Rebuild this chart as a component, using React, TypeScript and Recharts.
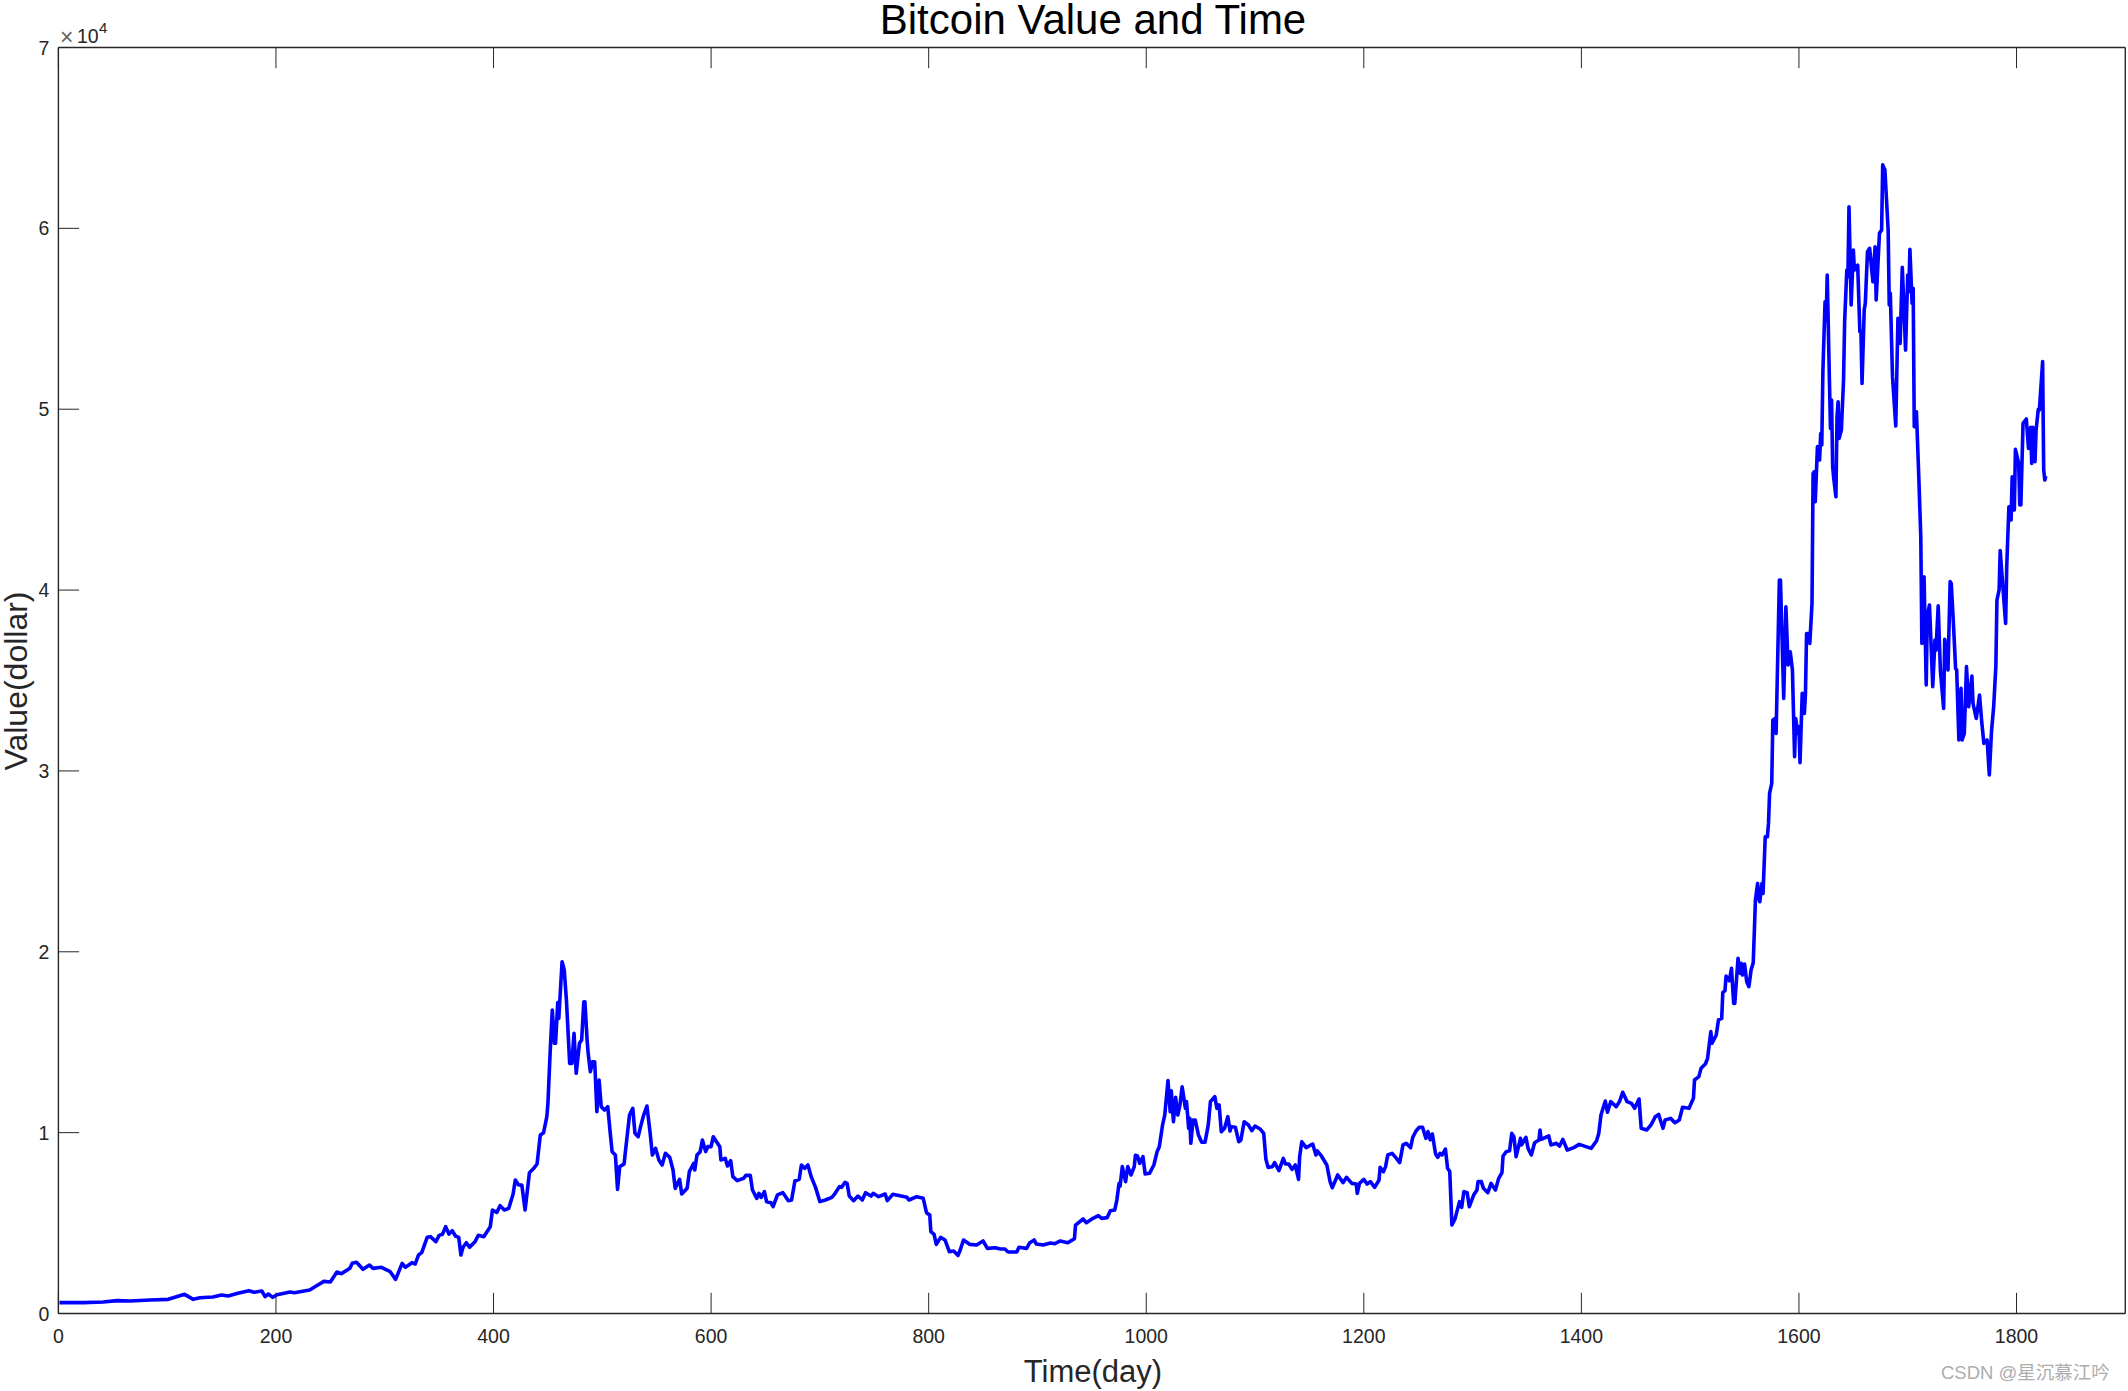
import { LineChart, Line, XAxis, YAxis } from "recharts";

// Bitcoin daily close as [day, dollars], split by stretch of the curve.
const start2016: [number, number][] = [
  [1, 600], [23, 600], [41, 636], [54, 710], [66, 690], [84, 746], [101, 783], [107, 894], [116, 1060], [124, 783],
  [130, 875], [142, 912], [150, 1023], [156, 967], [165, 1115], [175, 1262], [180, 1170], [187, 1244], [190, 931],
  [193, 1078], [197, 894], [201, 1041], [213, 1189], [217, 1152], [231, 1300], [237, 1520], [244, 1778], [250, 1742],
  [256, 2295], [260, 2202], [268, 2497], [270, 2773], [274, 2829], [280, 2442], [286, 2682], [289, 2497], [297, 2553],
  [305, 2313], [310, 1889], [316, 2774], [319, 2553], [325, 2810], [328, 2737], [331, 3234], [334, 3364], [339, 4211],
  [342, 4248], [347, 3972], [350, 4321], [353, 4377], [356, 4800], [359, 4395], [362, 4580], [365, 4285], [368, 4211],
  [370, 3234], [372, 3658], [375, 3916], [378, 3658], [383, 3972], [386, 4321], [391, 4248], [394, 4524], [397, 4800],
  [399, 5722], [403, 5593], [406, 5962], [410, 5722], [414, 5815], [418, 6607], [420, 7381], [423, 7104], [426, 7104],
  [429, 5722], [433, 7787], [437, 8027], [440, 8267], [443, 9870], [446, 9998], [449, 10883],
];

const firstPeak: [number, number][] = [
  [450, 11620], [452, 14385], [454, 16780], [456, 14940], [457, 14940], [459, 17190], [460, 16320], [463, 19450],
  [465, 18990], [467, 17330], [470, 13830], [472, 13830], [474, 15490], [476, 13280], [479, 14940], [481, 15120],
  [483, 17240], [484, 17240], [486, 15120], [487, 14385], [489, 13370], [491, 13920], [493, 13920], [495, 11160],
  [497, 12910], [499, 11435], [502, 11250], [505, 11435], [507, 10145], [509, 8950], [512, 8765], [514, 6865],
  [516, 8120], [520, 8265], [522, 9370], [525, 10975], [528, 11345], [530, 9960], [533, 9775], [535, 10290],
  [538, 10975], [541, 11470], [544, 9960], [546, 8765], [549, 9130], [552, 8490], [555, 8210], [558, 8860],
  [562, 8635], [565, 7935], [567, 6920], [571, 7420], [573, 6610], [578, 6920], [580, 7845], [584, 8300], [585, 7935],
  [587, 8765], [590, 8950], [592, 9590], [595, 8950], [597, 9225], [600, 9225], [602, 9775], [605, 9500], [608, 9225],
  [609, 8490], [613, 8580], [615, 8155], [618, 8450], [620, 7565], [624, 7345], [630, 7475], [632, 7640],
];

const winter2018: [number, number][] = [
  [636, 7640], [638, 6830], [642, 6370], [644, 6645], [646, 6425], [649, 6740], [651, 6185], [655, 6130], [657, 5905],
  [661, 6555], [666, 6680], [671, 6240], [674, 6275], [677, 7325], [681, 7420], [683, 8210], [686, 8025], [689, 8210],
  [692, 7565], [696, 6975], [700, 6185], [705, 6275], [711, 6425], [714, 6645], [718, 7015], [720, 6975], [723, 7250],
  [725, 7195], [727, 6495], [731, 6240], [735, 6495], [739, 6275], [742, 6680], [747, 6495], [749, 6645], [754, 6460],
  [760, 6605], [762, 6240], [767, 6590], [780, 6425], [782, 6275], [789, 6460], [795, 6370], [798, 5575], [801, 5445],
  [802, 4525], [805, 4375], [807, 3820], [811, 4210], [815, 4065], [819, 3420], [823, 3455], [827, 3215], [829, 3510],
  [832, 4065], [838, 3820], [844, 3785], [850, 4010], [854, 3600], [861, 3640], [866, 3565], [870, 3565], [873, 3400],
  [881, 3400], [883, 3660], [890, 3600], [893, 3915], [897, 4065], [899, 3840], [905, 3785], [912, 3900], [916, 3860],
  [921, 4010], [928, 3915], [934, 4140], [935, 4890], [942, 5225], [945, 5020], [951, 5260], [956, 5410], [959, 5260],
  [964, 5300], [967, 5685], [971, 5720], [973, 6275], [975, 7195], [976, 7050], [978, 8120], [981, 7290], [983, 8120],
  [986, 7660], [989, 8120], [990, 8745], [992, 8710], [994, 8300], [997, 8670], [999, 7715], [1003, 7750], [1007, 8210],
  [1010, 8950], [1012, 9225], [1015, 10420], [1017, 10970], [1020, 12875], [1022, 11160], [1023, 12320], [1025, 10605],
  [1027, 11950], [1029, 10975], [1031, 11530], [1033, 12540], [1036, 11345], [1037, 11715], [1039, 10235], [1040, 10790],
  [1041, 9410], [1043, 10700], [1045, 10700],
];

const middle2019: [number, number][] = [
  [1048, 9870], [1051, 9465], [1054, 9465], [1057, 10420], [1059, 11715], [1063, 11990], [1065, 11345], [1067, 11530],
  [1069, 10055], [1072, 10240], [1075, 10885], [1077, 10090], [1078, 10330], [1082, 10295], [1085, 9500], [1087, 9590],
  [1090, 10605], [1094, 10420], [1097, 10110], [1100, 10365], [1105, 10185], [1108, 9960], [1110, 8525], [1112, 8080],
  [1116, 8120], [1118, 8340], [1122, 7900], [1126, 8580], [1128, 8265], [1131, 8265], [1134, 7970], [1137, 8210],
  [1140, 7415], [1141, 8670], [1143, 9500], [1147, 9170], [1153, 9370], [1156, 8765], [1157, 9000], [1161, 8710],
  [1166, 8210], [1169, 7290], [1171, 6955], [1176, 7660], [1181, 7235], [1184, 7530], [1189, 7195], [1193, 7160],
  [1194, 6645], [1196, 7195], [1200, 7415], [1203, 7160], [1206, 7290], [1210, 6975], [1214, 7380], [1215, 8080],
  [1218, 7840], [1220, 8120], [1222, 8765], [1226, 8855], [1230, 8580], [1233, 8340], [1236, 9320], [1239, 9410],
  [1243, 9170], [1245, 9740], [1248, 10090], [1251, 10295], [1254, 10295], [1257, 9685], [1259, 10055], [1261, 9600],
  [1263, 9925], [1266, 8820], [1268, 8635], [1270, 8855], [1272, 8765], [1275, 9095], [1277, 8025], [1279, 7845],
  [1281, 4890], [1284, 5260], [1288, 6185], [1290, 5870], [1292, 6740], [1295, 6680], [1297, 5905], [1301, 6550],
  [1304, 6830], [1305, 7290], [1308, 7290], [1310, 6920], [1314, 6680], [1317, 7195], [1321, 6830], [1324, 7475],
  [1327, 7790], [1328, 8710], [1331, 8950], [1334, 9000], [1336, 9960], [1338, 9775], [1340, 8670], [1344, 9685],
  [1345, 9320], [1349, 9740], [1351, 9130], [1354, 8765], [1357, 9445], [1361, 9590], [1362, 10145], [1363, 9630],
  [1370, 9815], [1372, 9320], [1377, 9410], [1380, 9260], [1383, 9630], [1387, 9040], [1393, 9170], [1398, 9350],
  [1409, 9130], [1414, 9555], [1416, 9960], [1418, 10975], [1422, 11750], [1424, 11125], [1427, 11715], [1432, 11435],
  [1435, 11715], [1438, 12230], [1442, 11715], [1446, 11620],
];

const climb2020: [number, number][] = [
  [1449, 11345], [1453, 11860], [1455, 10240], [1460, 10145], [1464, 10420], [1468, 10885], [1471, 11010], [1475, 10240],
  [1477, 10700], [1482, 10790], [1486, 10550], [1490, 10700], [1493, 11400], [1499, 11345], [1503, 11900], [1504, 12910],
  [1508, 13095], [1510, 13555], [1514, 13795], [1516, 14110], [1519, 15585], [1520, 14940], [1524, 15400], [1526, 16230],
  [1529, 16320], [1530, 17740], [1532, 17850], [1533, 18660], [1536, 18400], [1538, 19085], [1540, 17150], [1541, 17150],
  [1544, 19635], [1546, 18810], [1547, 19360], [1548, 18715], [1550, 19320], [1552, 18345], [1554, 18070], [1556, 18990],
  [1558, 19400], [1560, 22865], [1562, 23780], [1563, 22950], [1564, 22770], [1566, 23780], [1567, 23230], [1569, 26360],
  [1571, 26360], [1572, 27100], [1573, 28760], [1575, 29310], [1576, 32810], [1578, 32900], [1579, 32075], [1582, 40555],
  [1583, 40555], [1586, 34010], [1588, 39080], [1590, 35855], [1592, 36590], [1594, 35580], [1596, 30785], [1597, 32900],
  [1599, 32075], [1600, 32445], [1601, 30455], [1603, 34290], [1605, 33180], [1606, 34290], [1607, 37600], [1609, 37600],
  [1610, 37050], [1612, 39260],
];

const highs2021: [number, number][] = [
  [1613, 46450], [1614, 46540], [1615, 44885], [1617, 47930], [1619, 47190], [1620, 48660], [1621, 48020], [1622, 52070],
  [1624, 55945], [1625, 54930], [1626, 57415], [1628, 51615], [1629, 48940], [1630, 50510], [1631, 46820], [1632, 46170],
  [1634, 45160], [1635, 49585], [1636, 50415], [1637, 48390], [1639, 48850], [1641, 51615], [1642, 54840], [1644, 57690],
  [1645, 57325], [1646, 61195], [1648, 55760], [1650, 58800], [1651, 57690], [1654, 57965], [1656, 54285], [1657, 54285],
  [1658, 51430], [1660, 55485], [1661, 55855], [1663, 58710], [1665, 58895], [1668, 57045], [1670, 58985], [1671, 56040],
  [1674, 59725], [1676, 59910], [1677, 63510], [1679, 63230], [1682, 59910], [1683, 55760], [1684, 56405], [1686, 51800],
  [1689, 49070], [1691, 55025], [1693, 53640], [1695, 57840], [1696, 56405], [1698, 53270], [1700, 57415], [1701, 56500],
  [1702, 58840], [1704, 55855], [1705, 56680], [1706, 49030], [1708, 49860], [1710, 46540],
];

const endOfSeries: [number, number][] = [
  [1712, 42950], [1713, 37050], [1715, 40740], [1717, 34750], [1718, 38620], [1720, 39170], [1723, 34660], [1725, 37235],
  [1726, 36680], [1728, 39130], [1730, 35580], [1733, 33460], [1734, 37280], [1737, 35580], [1739, 40465], [1740, 40370],
  [1742, 38160], [1744, 35670], [1745, 35580], [1747, 31710], [1749, 34565], [1750, 31710], [1752, 32075], [1754, 35765],
  [1756, 33550], [1759, 35250], [1760, 33735], [1763, 32905], [1766, 34195], [1768, 32720], [1770, 31525], [1773, 31710],
  [1775, 29775], [1777, 32170], [1779, 33550], [1781, 35765], [1782, 39450], [1784, 40005], [1785, 42180], [1787, 40555],
  [1790, 38160], [1791, 41290], [1793, 44610], [1795, 43875], [1796, 46265], [1798, 44425], [1799, 47780], [1802, 47005],
  [1803, 44700], [1804, 44700], [1806, 49220], [1809, 49460], [1811, 47835], [1813, 48995], [1814, 47005], [1815, 48995],
  [1817, 47095], [1818, 48850], [1820, 49990], [1821, 49950], [1824, 52630], [1825, 46635], [1826, 46085], [1827, 46300],
];

const xTicks = [0, 200, 400, 600, 800, 1000, 1200, 1400, 1600, 1800];
const yTicks = [0, 10000, 20000, 30000, 40000, 50000, 60000, 70000];

const chartData = [...start2016, ...firstPeak, ...winter2018, ...middle2019, ...climb2020, ...highs2021, ...endOfSeries].map(
  ([day, value]) => ({ day, value })
);

const INK = "#262626";
const TICK_LEN = 20.7;
const FONT = "'Liberation Sans', Arial, sans-serif";

function BottomTick({ x, y, payload }: any) {
  return (
    <g>
      <line x1={x} x2={x} y1={y} y2={y - TICK_LEN} stroke={INK} strokeWidth={1} />
      <text x={x} y={y + 29.5} textAnchor="middle" fontFamily={FONT} fontSize={19.5} fill={INK}>
        {payload.value}
      </text>
    </g>
  );
}

function TopTick({ x, y }: any) {
  return <line x1={x} x2={x} y1={y} y2={y + TICK_LEN} stroke={INK} strokeWidth={1} />;
}

function LeftTick({ x, y, payload }: any) {
  return (
    <g>
      <line x1={x} x2={x + TICK_LEN} y1={y} y2={y} stroke={INK} strokeWidth={1} />
      <text x={x - 9} y={y + 7} textAnchor="end" fontFamily={FONT} fontSize={19.5} fill={INK}>
        {payload.value / 10000}
      </text>
    </g>
  );
}

function RightTick({ x, y }: any) {
  return <line x1={x} x2={x - TICK_LEN} y1={y} y2={y} stroke={INK} strokeWidth={1} />;
}

export default function App() {
  return (
    <div style={{ position: "absolute", left: 0, top: 0, width: 2128, height: 1391, background: "#fff" }}>
      <LineChart
        width={2128}
        height={1391}
        data={chartData}
        margin={{ top: 46.5, right: 1.7, bottom: 76.5, left: 57.4 }}
      >
        <XAxis
          xAxisId="bottom"
          dataKey="day"
          type="number"
          domain={[0, 1900]}
          ticks={xTicks}
          interval={0}
          height={1}
          tickSize={0}
          tickMargin={0}
          tickLine={false}
          axisLine={{ stroke: INK, strokeWidth: 1.4 }}
          tick={BottomTick}
        />
        <XAxis
          xAxisId="top"
          orientation="top"
          dataKey="day"
          type="number"
          domain={[0, 1900]}
          ticks={xTicks}
          interval={0}
          height={1}
          tickSize={0}
          tickMargin={0}
          tickLine={false}
          axisLine={{ stroke: INK, strokeWidth: 1.4 }}
          tick={TopTick}
        />
        <YAxis
          yAxisId="left"
          type="number"
          domain={[0, 70000]}
          ticks={yTicks}
          interval={0}
          width={1}
          tickSize={0}
          tickMargin={0}
          tickLine={false}
          axisLine={{ stroke: INK, strokeWidth: 1.4 }}
          tick={LeftTick}
        />
        <YAxis
          yAxisId="right"
          orientation="right"
          type="number"
          domain={[0, 70000]}
          ticks={yTicks}
          interval={0}
          width={1}
          tickSize={0}
          tickMargin={0}
          tickLine={false}
          axisLine={{ stroke: INK, strokeWidth: 1.4 }}
          tick={RightTick}
        />
        <Line
          xAxisId="bottom"
          yAxisId="left"
          type="linear"
          dataKey="value"
          stroke="#0000ff"
          strokeWidth={3.6}
          strokeLinejoin="round"
          dot={false}
          activeDot={false}
          isAnimationActive={false}
        />
        <text x={1093} y={33.5} textAnchor="middle" fontFamily={FONT} fontSize={42} fill="#000">
          Bitcoin Value and Time
        </text>
        <text x={1093} y={1382} textAnchor="middle" fontFamily={FONT} fontSize={31} fill={INK}>
          Time(day)
        </text>
        <text
          x={0}
          y={0}
          transform="translate(27 681) rotate(-90)"
          textAnchor="middle"
          fontFamily={FONT}
          fontSize={32}
          fill={INK}
        >
          Value(dollar)
        </text>
        <text x={60} y={44.5} fontFamily={FONT} fontSize={23} fill="#666">
          ×
        </text>
        <text x={77} y={43} fontFamily={FONT} fontSize={19.5} fill={INK}>
          10
        </text>
        <text x={99} y={33} fontFamily={FONT} fontSize={15} fill={INK}>
          4
        </text>
        <text
          x={1941}
          y={1379}
          fontFamily="'Liberation Sans', 'Noto Sans CJK SC', sans-serif"
          fontSize={18.5}
          fill="#adadad"
        >
          CSDN @星沉慕江吟
        </text>
      </LineChart>
    </div>
  );
}
